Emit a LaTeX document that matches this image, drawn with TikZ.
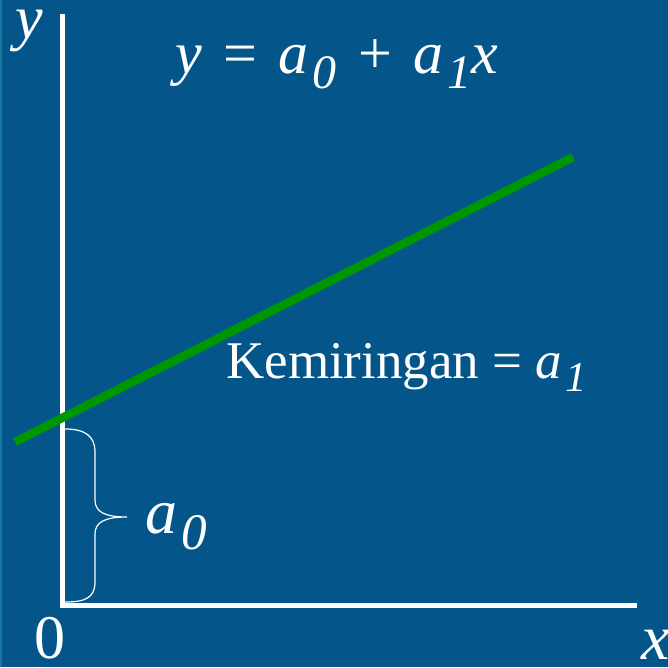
\documentclass[tikz,border=0pt]{standalone}
\usepackage{graphicx}
\usepackage{fontspec}
\setmainfont{Liberation Serif}
\usetikzlibrary{positioning}
\definecolor{slidebg}{RGB}{4,86,138}
\definecolor{slideedge}{RGB}{20,120,160}
\definecolor{fitgreen}{RGB}{0,150,0}
\newcommand{\sidx}[1]{\kern0.06em\raisebox{-0.25em}{\scalebox{0.8}{\textit{#1}}}}
\newcommand{\gap}{\hspace{0.36em}}

\begin{document}
\begin{tikzpicture}[x=1pt, y=-1pt, every node/.style={white, inner sep=0pt}]
    % Background
    \fill[slidebg] (0,0) rectangle (668,667);
    \fill[slideedge] (0,0) rectangle (2,667);
    \useasboundingbox (0,0) rectangle (668,667);

    % Axes
    \coordinate (origin) at (62,605);
    \coordinate (ytop) at (62,14);
    \coordinate (xend) at (637,605);
    \draw[white, line width=5pt, line join=miter] (ytop) -- (origin) -- (xend);
    \node[anchor=base west, font=\fontsize{62}{62}\selectfont] (ylab) at (15,38) {\textit{y}};
    \node[anchor=base west, font=\fontsize{64}{64}\selectfont] (xlab) at (641,659) {\textit{x}};
    \node[anchor=base west, font=\fontsize{62}{62}\selectfont] (zero) at (34,658) {0};

    % Fitted line
    \coordinate (lstart) at (15,442);
    \coordinate (lend) at (573,157);
    \draw[fitgreen, line width=8.5pt] (lstart) -- (lend);

    % Intercept brace
    \draw[white, line width=1.2pt]
        (65,429) .. controls (85,429) and (95,436) .. (95,452) -- (95,500)
        .. controls (95,512) and (105,517) .. (127,517)
        .. controls (105,517) and (95,522) .. (95,534) -- (95,582)
        .. controls (95,598) and (85,602) .. (65,602);

    % Labels
    \node[anchor=base west, font=\fontsize{60}{60}\selectfont] (eqn) at (175,73)
        {\textit{y}\gap=\gap\textit{a}\sidx{0}\gap+\gap\textit{a}\sidx{1}\textit{x}};
    \node[anchor=base west, font=\fontsize{53}{53}\selectfont] (slope) at (226,378)
        {Kemiringan = \textit{a}\sidx{1}};
    \node[anchor=base west, font=\fontsize{64}{64}\selectfont] (icpt) at (145,533)
        {\textit{a}\sidx{0}};
\end{tikzpicture}
\end{document}
